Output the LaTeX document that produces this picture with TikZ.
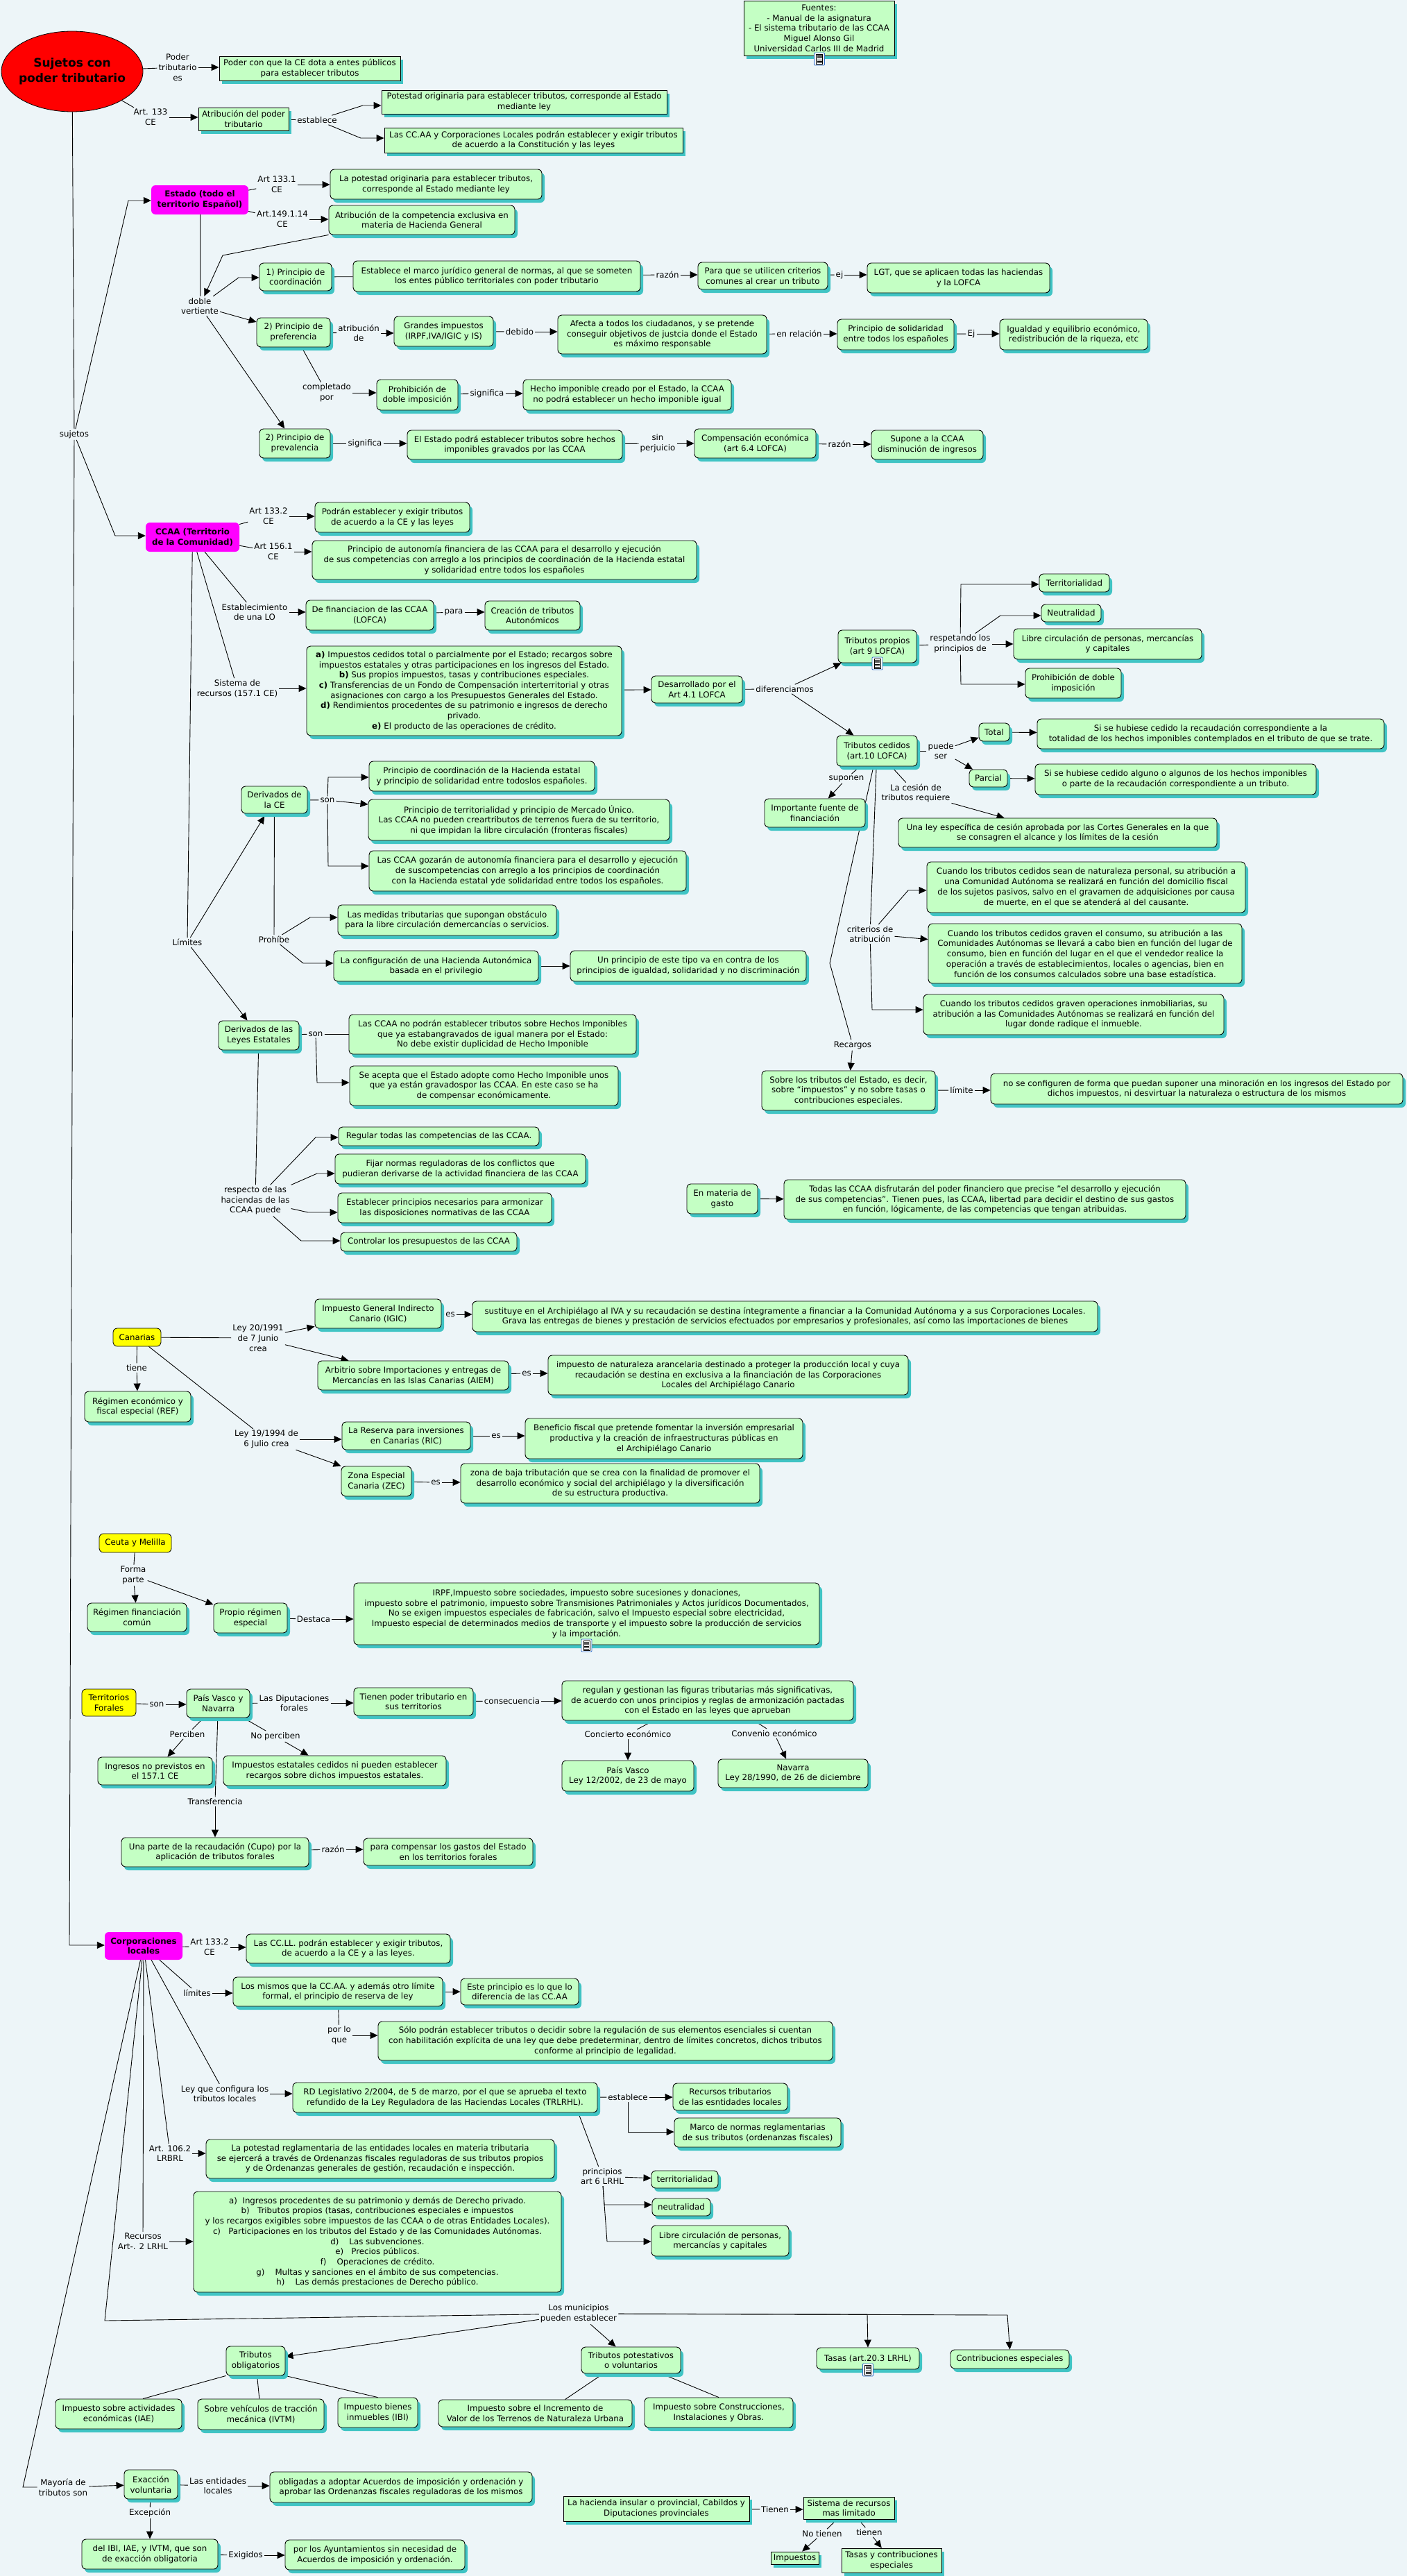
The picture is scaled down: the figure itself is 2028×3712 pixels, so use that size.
\documentclass[tikz,border=0pt]{standalone}
\usepackage{fontspec}
\setmainfont{DejaVu Sans}
\usetikzlibrary{arrows.meta,shadows,shapes.geometric,backgrounds}
\definecolor{bgc}{RGB}{237,245,248}
\definecolor{boxc}{RGB}{196,255,196}
\definecolor{shadc}{RGB}{64,196,196}
\definecolor{iconb}{RGB}{50,110,200}
\definecolor{magc}{RGB}{255,0,255}
\definecolor{yelc}{RGB}{255,255,0}
\definecolor{redc}{RGB}{255,0,0}
\tikzset{
  box/.style n args={4}{minimum width={(#3-#1)*1pt},minimum height={(#4-#2)*1pt},at={({(#1+#3)/2},{(#2+#4)/2})}},
  base/.style={align=center,inner sep=1pt,font=\fontsize{11.8}{14.7}\selectfont,text=black},
  rbox/.style={base,rectangle,rounded corners=6pt,general shadow={shadow xshift=4pt,shadow yshift=-5pt,fill=shadc,draw=none},draw=black,line width=.9pt,fill=boxc},
  sbox/.style={rbox,rounded corners=0pt},
  mag/.style={base,rectangle,rounded corners=6pt,fill=magc,font=\fontsize{11.8}{14.7}\selectfont\bfseries},
  yel/.style={base,rectangle,rounded corners=6pt,draw=black,line width=.8pt,fill=yelc},
  lab/.style={base,inner sep=2pt},
  lnk/.style={draw=black,line width=.9pt},
  arw/.style={lnk,-{Triangle[length=11pt,width=10pt]}}
}
\newcommand\nb[7][rbox]{\node[#1,box={#3}{#4}{#5}{#6}] (#2) {#7};}
\newcommand\lbl[4]{\node[lab] (#1) at (#2,#3) {#4};}
\newcommand\lnk[2]{\draw[lnk] (#1) -- (#2);}
\newcommand\lnh[2]{\draw[lnk] (#1) -- (#1 -| #2.west);}
\newcommand\arw[2]{\draw[arw] (#1) -- (#2);}
\newcommand\arh[2]{\draw[arw] (#1) -- (#1 -| #2.west);}
\newcommand\arb[3]{\draw[arw] (#1) -- (#2) -- (#2 -| #3.west);}
\newcommand\icn[2]{\begin{scope}[shift={(#1,#2)}]
  \draw[iconb,fill=white,line width=.9pt,rounded corners=1pt] (-7.5,-9) rectangle (7.5,9);
  \draw[black,fill=white,line width=.5pt] (-4.5,-7) rectangle (4.5,7);
  \fill[gray!70!black] (-3.5,-5.5) rectangle (3.5,-1);
  \draw[black,line width=.6pt] (-3.5,1) -- (3.5,1) (-3.5,3) -- (3.5,3) (-3.5,5) -- (3.5,5);
\end{scope}}
\begin{document}
\begin{tikzpicture}[x=1pt,y=-1pt]
\useasboundingbox (0,0) rectangle (2028,3712);
% ---------- header
\node[ellipse,draw=black,line width=.8pt,fill=redc,minimum width=204pt,minimum height=116pt,inner xsep=-10pt,inner ysep=0pt,align=center,font=\fontsize{17}{22}\selectfont\bfseries] (ell) at (104,103) {Sujetos con\\poder tributario};
\lbl{lpt}{256}{97}{Poder\\tributario\\es}
\nb[sbox]{p1}{316}{81}{577}{116}{Poder con que la CE dota a entes públicos\\para establecer tributos}
\lbl{lart}{217}{169}{Art. 133\\CE}
\nb[sbox]{b2}{286}{155}{416}{188}{Atribución del poder\\tributario}
\lbl{lest}{457}{173}{establece}
\nb[sbox]{b3}{550}{130}{961}{164}{Potestad originaria para establecer tributos, corresponde al Estado\\mediante ley}
\nb[sbox]{b4}{554}{184}{984}{220}{Las CC.AA y Corporaciones Locales podrán establecer y exigir tributos\\de acuerdo a la Constitución y las leyes}
\nb[sbox]{fue}{1072}{1}{1289}{80}{Fuentes:\\- Manual de la asignatura\\- El sistema tributario de las CCAA\\Miguel Alonso Gil\\Universidad Carlos III de Madrid}
\lbl{lsuj}{107}{626}{sujetos}
% ---------- Estado
\nb[mag]{est}{218}{267}{358}{309}{Estado (todo el\\territorio Español)}
\lbl{l1331}{399}{266}{Art 133.1\\CE}
\nb{pot}{476}{244}{781}{287}{La potestad originaria para establecer tributos,\\corresponde al Estado mediante ley}
\lbl{l149}{407}{316}{Art.149.1.14\\CE}
\nb{atc}{474}{296}{742}{338}{Atribución de la competencia exclusiva en\\materia de Hacienda General}
\lbl{ldob}{288}{441}{doble\\vertiente}
\nb{coo}{374}{379}{478}{419}{1) Principio de\\coordinación}
\nb{mar}{509}{376}{923}{420}{Establece el marco jurídico general de normas, al que se someten\\los entes público territoriales con poder tributario}
\lbl{lraz}{962}{396}{razón}
\nb{par}{1006}{378}{1193}{417}{Para que se utilicen criterios\\comunes al crear un tributo}
\lbl{lej}{1210}{396}{ej}
\nb{lgt}{1250}{379}{1513}{422}{LGT, que se aplicaen todas las haciendas\\y la LOFCA}
\nb{pre}{370}{458}{476}{500}{2) Principio de\\preferencia}
\lbl{latr}{517}{480}{atribución\\de}
\nb{gra}{568}{456}{711}{499}{Grandes impuestos\\(IRPF,IVA/IGIC y IS)}
\lbl{ldeb}{749}{478}{debido}
\nb{afe}{804}{454}{1105}{510}{Afecta a todos los ciudadanos, y se pretende\\conseguir objetivos de justcia donde el Estado\\es máximo responsable}
\lbl{lrel}{1152}{481}{en relación}
\nb{sol}{1207}{460}{1375}{504}{Principio de solidaridad\\entre todos los españoles}
\lbl{lEj}{1400}{481}{Ej}
\nb{igu}{1441}{460}{1654}{504}{Igualdad y equilibrio económico,\\redistribución de la riqueza, etc}
\lbl{lcom}{471}{566}{completado\\por}
\nb{pro}{543}{547}{660}{591}{Prohibición de\\doble imposición}
\lbl{lsig}{702}{567}{significa}
\nb{hec}{754}{547}{1054}{591}{Hecho imponible creado por el Estado, la CCAA\\no podrá establecer un hecho imponible igual}
\nb{prv}{374}{618}{476}{660}{2) Principio de\\prevalencia}
\lbl{lsg2}{526}{639}{significa}
\nb{epo}{587}{620}{897}{662}{El Estado podrá establecer tributos sobre hechos\\imponibles gravados por las CCAA}
\lbl{lsin}{948}{639}{sin\\perjuicio}
\nb{cmp}{1001}{618}{1176}{660}{Compensación económica\\(art 6.4 LOFCA)}
\lbl{lrz2}{1210}{640}{razón}
\nb{sup}{1256}{620}{1417}{662}{Supone a la CCAA\\disminución de ingresos}
% ---------- CCAA
\nb[mag]{cca}{210}{753}{345}{795}{CCAA (Territorio\\de la Comunidad)}
\lbl{l1332}{387}{744}{Art 133.2\\CE}
\nb{pod}{454}{724}{677}{767}{Podrán establecer y exigir tributos\\de acuerdo a la CE y las leyes}
\lbl{l1561}{394}{795}{Art 156.1\\CE}
\nb{aut}{450}{779}{1004}{835}{Principio de autonomía financiera de las CCAA para el desarrollo y ejecución\\de sus competencias con arreglo a los principios de coordinación de la Hacienda estatal\\y solidaridad entre todos los españoles}
\lbl{lesb}{367}{882}{Establecimiento\\de una LO}
\nb{fin}{441}{865}{625}{908}{De financiacion de las CCAA\\(LOFCA)}
\lbl{lpar}{654}{882}{para}
\nb{cre}{699}{866}{836}{908}{Creación de tributos\\Autonómicos}
\lbl{lsis}{342}{992}{Sistema de\\recursos (157.1 CE)}
\nb{rec}{442}{931}{896}{1060}{\textbf{a)} Impuestos cedidos total o parcialmente por el Estado; recargos sobre\\impuestos estatales y otras participaciones en los ingresos del Estado.\\\textbf{b)} Sus propios impuestos, tasas y contribuciones especiales.\\\textbf{c)} Transferencias de un Fondo de Compensación interterritorial y otras\\asignaciones con cargo a los Presupuestos Generales del Estado.\\\textbf{d)} Rendimientos procedentes de su patrimonio e ingresos de derecho\\privado.\\\textbf{e)} El producto de las operaciones de crédito.}
\nb{des}{939}{974}{1070}{1013}{Desarrollado por el\\Art 4.1 LOFCA}
\lbl{ldif}{1131}{993}{diferenciamos}
\nb{tpr}{1208}{908}{1321}{955}{Tributos propios\\(art 9 LOFCA)}
\nb{ced}{1206}{1060}{1322}{1104}{Tributos cedidos\\(art.10 LOFCA)}
\lbl{lres}{1384}{928}{respetando los\\principios de}
\nb{ter}{1498}{827}{1599}{853}{Territorialidad}
\nb{neu}{1501}{871}{1587}{896}{Neutralidad}
\nb{lib}{1461}{906}{1732}{950}{Libre circulación de personas, mercancías\\y capitales}
\nb{pdo}{1478}{963}{1616}{1006}{Prohibición de doble\\imposición}
\lbl{lpue}{1356}{1082}{puede\\ser}
\nb{tot}{1411}{1042}{1455}{1068}{Total}
\nb{pcl}{1397}{1109}{1452}{1134}{Parcial}
\nb{btt}{1495}{1036}{1995}{1079}{Si se hubiese cedido la recaudación correspondiente a la\\totalidad de los hechos imponibles contemplados en el tributo de que se trate.}
\nb{bpc}{1492}{1101}{1897}{1145}{Si se hubiese cedido alguno o algunos de los hechos imponibles\\o parte de la recaudación correspondiente a un tributo.}
\lbl{lspn}{1220}{1122}{suponen}
\nb{imf}{1102}{1151}{1247}{1192}{Importante fuente de\\financiación}
\lbl{lces}{1320}{1143}{La cesión de\\tributos requiere}
\nb{ley}{1295}{1179}{1754}{1221}{Una ley específica de cesión aprobada por las Cortes Generales en la que\\se consagren el alcance y los límites de la cesión}
\nb{c1}{1336}{1242}{1795}{1315}{Cuando los tributos cedidos sean de naturaleza personal, su atribución a\\una Comunidad Autónoma se realizará en función del domicilio fiscal\\de los sujetos pasivos, salvo en el gravamen de adquisiciones por causa\\de muerte, en el que se atenderá al del causante.}
\nb{c2}{1338}{1331}{1790}{1417}{Cuando los tributos cedidos graven el consumo, su atribución a las\\Comunidades Autónomas se llevará a cabo bien en función del lugar de\\consumo, bien en función del lugar en el que el vendedor realice la\\operación a través de establecimientos, locales o agencias, bien en\\función de los consumos calculados sobre una base estadística.}
\nb{c3}{1331}{1433}{1764}{1491}{Cuando los tributos cedidos graven operaciones inmobiliarias, su\\atribución a las Comunidades Autónomas se realizará en función del\\lugar donde radique el inmueble.}
\lbl{lcri}{1254}{1346}{criterios de\\atribución}
\lbl{lrcg}{1229}{1506}{Recargos}
\nb{sob}{1098}{1543}{1348}{1600}{Sobre los tributos del Estado, es decir,\\sobre “impuestos” y no sobre tasas o\\contribuciones especiales.}
\lbl{llim}{1386}{1571}{límite}
\nb{noc}{1428}{1547}{2022}{1591}{no se configuren de forma que puedan suponer una minoración en los ingresos del Estado por\\dichos impuestos, ni desvirtuar la naturaleza o estructura de los mismos}
\nb{enm}{990}{1706}{1092}{1749}{En materia de\\gasto}
\nb{tod}{1130}{1700}{1709}{1757}{Todas las CCAA disfrutarán del poder financiero que precise "el desarrollo y ejecución\\de sus competencias". Tienen pues, las CCAA, libertad para decidir el destino de sus gastos\\en función, lógicamente, de las competencias que tengan atribuidas.}
% ---------- Limites
\lbl{llm2}{270}{1358}{Límites}
\nb{dce}{348}{1133}{443}{1172}{Derivados de\\la CE}
\lbl{lson}{472}{1153}{son}
\nb{d1}{532}{1097}{857}{1140}{Principio de coordinación de la Hacienda estatal\\y principio de solidaridad entre todoslos españoles.}
\nb{d2}{531}{1152}{965}{1211}{Principio de territorialidad y principio de Mercado Único.\\Las CCAA no pueden creartributos de terrenos fuera de su territorio,\\ni que impidan la libre circulación (fronteras fiscales)}
\nb{d3}{532}{1226}{989}{1284}{Las CCAA gozarán de autonomía financiera para el desarrollo y ejecución\\de suscompetencias con arreglo a los principios de coordinación\\con la Hacienda estatal yde solidaridad entre todos los españoles.}
\lbl{lpro}{395}{1354}{Prohíbe}
\nb{med}{487}{1304}{802}{1348}{Las medidas tributarias que supongan obstáculo\\para la libre circulación demercancías o servicios.}
\nb{cnf}{481}{1370}{776}{1414}{La configuración de una Hacienda Autonómica\\basada en el privilegio}
\nb{unp}{822}{1370}{1162}{1414}{Un principio de este tipo va en contra de los\\principios de igualdad, solidaridad y no discriminación}
\nb{dle}{315}{1471}{431}{1513}{Derivados de las\\Leyes Estatales}
\lbl{lso2}{455}{1490}{son}
\nb{e1}{503}{1462}{917}{1519}{Las CCAA no podrán establecer tributos sobre Hechos Imponibles\\que ya estabangravados de igual manera por el Estado:\\No debe existir duplicidad de Hecho Imponible}
\nb{e2}{504}{1536}{891}{1593}{Se acepta que el Estado adopte como Hecho Imponible unos\\que ya están gravadospor las CCAA. En este caso se ha\\de compensar económicamente.}
\lbl{lrsp}{368}{1730}{respecto de las\\haciendas de las\\CCAA puede}
\nb{h1}{488}{1624}{777}{1651}{Regular todas las competencias de las CCAA.}
\nb{h2}{483}{1663}{844}{1706}{Fijar normas reguladoras de los conflictos que\\pudieran derivarse de la actividad financiera de las CCAA}
\nb{h3}{487}{1719}{795}{1762}{Establecer principios necesarios para armonizar\\las disposiciones normativas de las CCAA}
\nb{h4}{491}{1776}{745}{1803}{Controlar los presupuestos de las CCAA}
% ---------- Canarias
\nb[yel]{can}{163}{1914}{232}{1940}{Canarias}
\lbl{ll20}{372}{1928}{Ley 20/1991\\de 7 Junio\\crea}
\nb{igi}{454}{1872}{636}{1914}{Impuesto General Indirecto\\Canario (IGIC)}
\lbl{les1}{649}{1894}{es}
\nb{sus}{681}{1875}{1582}{1919}{sustituye en el Archipiélago al IVA y su recaudación se destina íntegramente a financiar a la Comunidad Autónoma y a sus Corporaciones Locales.\\Grava las entregas de bienes y prestación de servicios efectuados por empresarios y profesionales, así como las importaciones de bienes}
\nb{aie}{458}{1961}{733}{2003}{Arbitrio sobre Importaciones y entregas de\\Mercancías en las Islas Canarias (AIEM)}
\lbl{les2}{759}{1979}{es}
\nb{ara}{790}{1953}{1309}{2010}{impuesto de naturaleza arancelaria destinado a proteger la producción local y cuya\\recaudación se destina en exclusiva a la financiación de las Corporaciones\\Locales del Archipiélago Canario}
\lbl{ltie}{197}{1971}{tiene}
\nb{rgm}{122}{2005}{275}{2049}{Régimen económico y\\fiscal especial (REF)}
\lbl{ll19}{384}{2074}{Ley 19/1994 de\\6 Julio crea}
\nb{ric}{493}{2049}{678}{2089}{La Reserva para inversiones\\en Canarias (RIC)}
\lbl{les3}{715}{2069}{es}
\nb{ben}{757}{2044}{1157}{2102}{Beneficio fiscal que pretende fomentar la inversión empresarial\\productiva y la creación de infraestructuras públicas en\\el Archipiélago Canario}
\nb{zec}{492}{2113}{593}{2156}{Zona Especial\\Canaria (ZEC)}
\lbl{les4}{628}{2136}{es}
\nb{zon}{664}{2109}{1095}{2166}{zona de baja tributación que se crea con la finalidad de promover el\\desarrollo económico y social del archipiélago y la diversificación\\de su estructura productiva.}
% ---------- Ceuta
\nb[yel]{ceu}{143}{2210}{247}{2237}{Ceuta y Melilla}
\lbl{lfor}{192}{2270}{Forma\\parte}
\nb{rfc}{126}{2310}{269}{2351}{Régimen financiación\\común}
\nb{pre2}{308}{2310}{414}{2353}{Propio régimen\\especial}
\lbl{ldst}{452}{2333}{Destaca}
\nb{irp}{510}{2281}{1181}{2370}{IRPF,Impuesto sobre sociedades, impuesto sobre sucesiones y donaciones,\\impuesto sobre el patrimonio, impuesto sobre Transmisiones Patrimoniales y Actos jurídicos Documentados,\\No se exigen impuestos especiales de fabricación, salvo el Impuesto especial sobre electricidad,\\Impuesto especial de determinados medios de transporte y el impuesto sobre la producción de servicios\\y la importación.}
% ---------- Forales
\nb[yel]{tfo}{118}{2434}{196}{2473}{Territorios\\Forales}
\lbl{lso3}{226}{2456}{son}
\nb{pai}{269}{2434}{360}{2475}{País Vasco y\\Navarra}
\lbl{ldip}{424}{2454}{Las Diputaciones\\forales}
\nb{tnn}{510}{2432}{682}{2472}{Tienen poder tributario en\\sus territorios}
\lbl{lcns}{738}{2451}{consecuencia}
\nb{reg}{810}{2422}{1230}{2479}{regulan y gestionan las figuras tributarias más significativas,\\de acuerdo con unos principios y reglas de armonización pactadas\\con el Estado en las leyes que aprueban}
\lbl{lcnc}{905}{2499}{Concierto económico}
\nb{pvl}{810}{2537}{1000}{2581}{País Vasco\\Ley 12/2002, de 23 de mayo}
\lbl{lcnv}{1116}{2498}{Convenio económico}
\nb{nav}{1035}{2535}{1251}{2576}{Navarra\\Ley 28/1990, de 26 de diciembre}
\lbl{lper}{270}{2499}{Perciben}
\nb{ing}{141}{2532}{306}{2572}{Ingresos no previstos en\\el 157.1 CE}
\lbl{lnop}{397}{2502}{No perciben}
\nb{iec}{322}{2530}{643}{2573}{Impuestos estatales cedidos ni pueden establecer\\recargos sobre dichos impuestos estatales.}
\lbl{ltrf}{310}{2596}{Transferencia}
\nb{cup}{175}{2648}{445}{2690}{Una parte de la recaudación (Cupo) por la\\aplicación de tributos forales}
\lbl{lrz3}{480}{2665}{razón}
\nb{pco}{524}{2649}{768}{2688}{para compensar los gastos del Estado\\en los territorios forales}
% ---------- Corporaciones
\nb[mag]{cor}{151}{2784}{263}{2824}{Corporaciones\\locales}
\lbl{l133c}{302}{2806}{Art 133.2\\CE}
\nb{cll}{355}{2787}{649}{2829}{Las CC.LL. podrán establecer y exigir tributos,\\de acuerdo a la CE y a las leyes.}
\lbl{llmt}{284}{2872}{límites}
\nb{mis}{336}{2849}{638}{2891}{Los mismos que la CC.AA. y además otro límite\\formal, el principio de reserva de ley}
\nb{esp}{664}{2851}{834}{2889}{Este principio es lo que lo\\diferencia de las CC.AA}
\lbl{lplq}{489}{2933}{por lo\\que}
\nb{sol2}{545}{2913}{1200}{2969}{Sólo podrán establecer tributos o decidir sobre la regulación de sus elementos esenciales si cuentan\\con habilitación explícita de una ley que debe predeterminar, dentro de límites concretos, dichos tributos\\conforme al principio de legalidad.}
\lbl{lcfg}{324}{3017}{Ley que configura los\\tributos locales}
\nb{rdl}{422}{3001}{861}{3044}{RD Legislativo 2/2004, de 5 de marzo, por el que se aprueba el texto\\refundido de la Ley Reguladora de las Haciendas Locales (TRLRHL).}
\lbl{lst2}{905}{3022}{establece}
\nb{rtr}{970}{3002}{1135}{3041}{Recursos tributarios\\de las esntidades locales}
\nb{mrc}{972}{3052}{1212}{3094}{Marco de normas reglamentarias\\de sus tributos (ordenanzas fiscales)}
\lbl{lpri}{868}{3136}{principios\\art 6 LRHL}
\nb{te2}{939}{3128}{1035}{3153}{territorialidad}
\nb{ne2}{940}{3168}{1024}{3193}{neutralidad}
\nb{li2}{939}{3207}{1137}{3251}{Libre circulación de personas,\\mercancías y capitales}
\lbl{la106}{245}{3103}{Art. 106.2\\LRBRL}
\nb{ptr}{297}{3083}{799}{3139}{La potestad reglamentaria de las entidades locales en materia tributaria\\se ejercerá a través de Ordenanzas fiscales reguladoras de sus tributos propios\\y de Ordenanzas generales de gestión, recaudación e inspección.}
\lbl{lrcs}{206}{3230}{Recursos\\Art-. 2 LRHL}
\nb{rsc}{279}{3158}{809}{3303}{a)\ \ Ingresos procedentes de su patrimonio y demás de Derecho privado.\\b)\ \ \ Tributos propios (tasas, contribuciones especiales e impuestos\\y los recargos exigibles sobre impuestos de las CCAA o de otras Entidades Locales).\\c)\ \ \ Participaciones en los tributos del Estado y de las Comunidades Autónomas.\\d)\ \ \ \ Las subvenciones.\\e)\ \ \ Precios públicos.\\f)\ \ \ \ Operaciones de crédito.\\g)\ \ \ \ Multas y sanciones en el ámbito de sus competencias.\\h)\ \ \ \ Las demás prestaciones de Derecho público.}
\lbl{lmun}{834}{3334}{Los municipios\\pueden establecer}
\nb{tob}{326}{3381}{411}{3423}{Tributos\\obligatorios}
\nb{tvo}{838}{3382}{981}{3420}{Tributos potestativos\\o voluntarios}
\nb{tas}{1177}{3383}{1325}{3414}{Tasas (art.20.3 LRHL)}
\nb{cts}{1370}{3386}{1541}{3413}{Contribuciones especiales}
\nb{iae}{80}{3457}{262}{3500}{Impuesto sobre actividades\\económicas (IAE)}
\nb{ivt}{285}{3457}{467}{3501}{Sobre vehículos de tracción\\mecánica (IVTM)}
\nb{ibi}{487}{3455}{602}{3498}{Impuesto bienes\\inmuebles (IBI)}
\nb{iiv}{632}{3458}{911}{3497}{Impuesto sobre el Incremento de\\Valor de los Terrenos de Naturaleza Urbana}
\nb{ico}{929}{3455}{1143}{3498}{Impuesto sobre Construcciones,\\Instalaciones y Obras.}
\lbl{lmay}{91}{3584}{Mayoría de\\tributos son}
\nb{exa}{179}{3559}{256}{3601}{Exacción\\voluntaria}
\lbl{lent}{314}{3582}{Las entidades\\locales}
\nb{obl}{389}{3562}{767}{3606}{obligadas a adoptar Acuerdos de imposición y ordenación y\\aprobar las Ordenanzas fiscales reguladoras de los mismos}
\lbl{lexc}{216}{3621}{Excepción}
\nb{del}{118}{3659}{314}{3702}{del IBI, IAE, y IVTM, que son\\de exacción obligatoria}
\lbl{lexi}{354}{3682}{Exigidos}
\nb{pay}{411}{3660}{670}{3703}{por los Ayuntamientos sin necesidad de\\Acuerdos de imposición y ordenación.}
\nb[sbox]{hac}{812}{3597}{1080}{3633}{La hacienda insular o provincial, Cabildos y\\Diputaciones provinciales}
\lbl{ltnn}{1117}{3616}{Tienen}
\nb[sbox]{sis}{1158}{3598}{1289}{3630}{Sistema de recursos\\mas limitado}
\lbl{lnot}{1185}{3651}{No tienen}
\lbl{ltin}{1253}{3649}{tienen}
\nb[sbox]{imp}{1111}{3677}{1180}{3695}{Impuestos}
\nb[sbox]{tyc}{1213}{3672}{1357}{3707}{Tasas y contribuciones\\especiales}
% ---------- icons
\icn{1181}{85}
\icn{1264.5}{956}
\icn{845.5}{2371}
\icn{1251}{3415}
% ---------- connectors
\begin{scope}[on background layer]
\fill[bgc] (0,0) rectangle (2028,3712);
\lnk{ell}{lpt}\arh{lpt}{p1}\lnk{ell}{lart}\arh{lart}{b2}\lnk{b2}{lest}
\arb{lest}{523,152}{b3}\arb{lest}{520,199}{b4}
\lnk{ell}{lsuj}
\arb{lsuj}{185,289}{est}\arb{lsuj}{166,772}{cca}\arb{lsuj}{100,2803}{cor}
\lnk{est}{l1331}\arh{l1331}{pot}\lnk{est}{l149}\arh{l149}{atc}
\draw[arw] (atc.south west) -- (321,368) -- (ldob);
\lnk{est}{ldob}
\arb{ldob}{344,400}{coo}\arw{ldob}{pre}\arw{ldob}{prv}
\lnk{coo}{mar}\lnk{mar}{lraz}\arh{lraz}{par}\lnk{par}{lej}\arh{lej}{lgt}
\lnk{pre}{latr}\arh{latr}{gra}\lnk{gra}{ldeb}\arh{ldeb}{afe}\lnk{afe}{lrel}\arh{lrel}{sol}\lnk{sol}{lEj}\arh{lEj}{igu}
\lnk{pre}{lcom}\arh{lcom}{pro}\lnk{pro}{lsig}\arh{lsig}{hec}
\lnk{prv}{lsg2}\arh{lsg2}{epo}\lnk{epo}{lsin}\arh{lsin}{cmp}\lnk{cmp}{lrz2}\arh{lrz2}{sup}
\lnk{cca}{l1332}\arh{l1332}{pod}\lnk{cca}{l1561}\arh{l1561}{aut}
\lnk{cca}{lesb}\arh{lesb}{fin}\lnk{fin}{lpar}\arh{lpar}{cre}
\lnk{cca}{lsis}\arh{lsis}{rec}\arw{rec}{des}\lnk{des}{ldif}\arw{ldif}{tpr}\arw{ldif}{ced}
\lnk{tpr}{lres}\arb{lres}{1385,842}{ter}\arb{lres}{1442,887}{neu}\arh{lres}{lib}\arb{lres}{1385,986}{pdo}
\lnk{ced}{lpue}\arw{lpue}{tot}\arw{lpue}{pcl}\arw{tot}{btt}\arw{pcl}{bpc}
\lnk{ced}{lspn}\arw{lspn}{imf}\lnk{ced}{lces}\arw{lces}{ley}\lnk{ced}{lcri}
\arb{lcri}{1309,1283}{c1}\arw{lcri}{c2}\arb{lcri}{1257,1455}{c3}
\draw[lnk] (ced) -- (1196,1388) -- (lrcg);
\arw{lrcg}{sob}\lnk{sob}{llim}\arh{llim}{noc}\arw{enm}{tod}
\lnk{cca}{llm2}\draw[arw,shorten >=4pt] (llm2) -- (dce);
\lnk{dce}{lson}\arb{lson}{473,1120}{d1}\arw{lson}{d2}\arb{lson}{473,1248}{d3}
\lnk{dce}{lpro}\arb{lpro}{447,1322}{med}\arb{lpro}{437,1388}{cnf}\arw{cnf}{unp}
\arw{llm2}{dle}\lnk{dle}{lso2}\lnh{lso2}{e1}\arb{lso2}{457,1560}{e2}
\lnk{dle}{lrsp}\arb{lrsp}{455,1639}{h1}\arb{lrsp}{457,1691}{h2}\arb{lrsp}{444,1747}{h3}\arb{lrsp}{434,1788}{h4}
\lnk{can}{ll20}\arw{ll20}{igi}\draw[arw] (ll20) -- ([xshift=45pt]aie.north west);
\lnk{igi}{les1}\arh{les1}{sus}\lnk{aie}{les2}\arh{les2}{ara}
\lnk{can}{ltie}\arw{ltie}{rgm}\lnk{can}{ll19}\arh{ll19}{ric}\lnk{ric}{les3}\arh{les3}{ben}
\draw[arw] (ll19) -- (zec.north west);
\lnk{zec}{les4}\arh{les4}{zon}
\lnk{ceu}{lfor}\arw{lfor}{rfc}\arw{lfor}{pre2}\lnk{pre2}{ldst}\arh{ldst}{irp}
\lnk{tfo}{lso3}\arh{lso3}{pai}\lnk{pai}{ldip}\arh{ldip}{tnn}\lnk{tnn}{lcns}\arh{lcns}{reg}
\draw[lnk] ([xshift=-78pt]reg.south) -- (lcnc);\arw{lcnc}{pvl}
\draw[lnk] ([xshift=67pt]reg.south) -- (lcnv);\arw{lcnv}{nav}
\lnk{pai}{lper}\arw{lper}{ing}\lnk{pai}{lnop}\arw{lnop}{iec}\lnk{pai}{ltrf}\arw{ltrf}{cup}
\lnk{cup}{lrz3}\arh{lrz3}{pco}
\lnk{cor}{l133c}\arh{l133c}{cll}\lnk{cor}{llmt}\arh{llmt}{mis}\arw{mis}{esp}
\lnk{mis}{lplq}\arh{lplq}{sol2}\lnk{cor}{lcfg}\arh{lcfg}{rdl}\lnk{rdl}{lst2}\arh{lst2}{rtr}\arb{lst2}{905,3072}{mrc}
\draw[lnk] ([xshift=192pt]rdl.south) -- (lpri);
\arw{lpri}{te2}\arb{lpri}{871,3177}{ne2}\arb{lpri}{875,3230}{li2}
\lnk{cor}{la106}\arh{la106}{ptr}\lnk{cor}{lrcs}\arh{lrcs}{rsc}
\draw[lnk] (cor) -- (151,3344) -- (lmun);
\draw[lnk] (cor) -- (33,3584) -- (lmay);
\arw{lmay}{exa}\lnk{exa}{lent}\arh{lent}{obl}\lnk{exa}{lexc}\arw{lexc}{del}\lnk{del}{lexi}\arh{lexi}{pay}
\arw{lmun}{tob}\arw{lmun}{tvo}
\draw[arw] (lmun) -- (1250,3335) -- (tas.north);
\draw[arw] (lmun) -- (1452,3336) -- (cts.north);
\draw[lnk] (tob.south west) -- ([xshift=35pt]iae.north);
\draw[lnk] (tob) -- (ivt);
\draw[lnk] (tob.south east) -- (ibi.north);
\draw[lnk] ([xshift=-40pt]tvo.south) -- ([xshift=43pt]iiv.north);
\draw[lnk] ([xshift=44pt]tvo.south) -- (ico.north);
\lnk{hac}{ltnn}\arh{ltnn}{sis}\lnk{sis}{lnot}\arw{lnot}{imp}\lnk{sis}{ltin}\arw{ltin}{tyc}
\end{scope}
\end{tikzpicture}
\end{document}
